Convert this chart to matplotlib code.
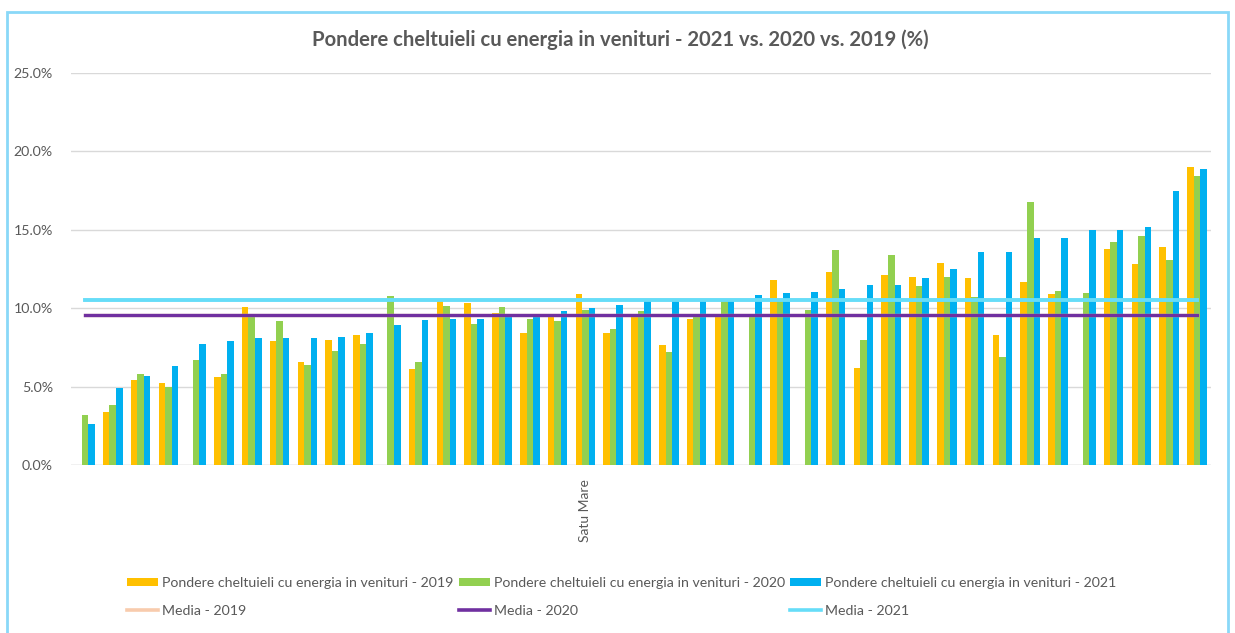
import numpy as np
import matplotlib
matplotlib.use("Agg")
import matplotlib.pyplot as plt
from matplotlib.patches import Rectangle, Patch
from matplotlib.lines import Line2D

nan = np.nan
categories = [""] * 18 + ["Satu Mare"] + [""] * 22
v2019 = [nan, 3.4, 5.4, 5.2, nan, 5.6, 10.1, 7.9, 6.6, 8.0, 8.3, nan, 6.1, 10.5, 10.35,
         9.7, 8.4, 9.6, 10.9, 8.4, 9.6, 7.65, 9.3, 9.6, nan, 11.8, nan, 12.3, 6.2, 12.1,
         12.0, 12.9, 11.9, 8.3, 11.7, 10.9, nan, 13.8, 12.8, 13.9, 19.0]
v2020 = [3.2, 3.8, 5.8, 5.0, 6.7, 5.8, 9.5, 9.2, 6.4, 7.25, 7.7, 10.8, 6.55, 10.15, 9.0,
         10.1, 9.3, 9.2, 9.9, 8.7, 9.8, 7.2, 9.6, 10.45, 9.6, 10.6, 9.9, 13.7, 8.0, 13.4,
         11.4, 12.0, 10.7, 6.9, 16.8, 11.1, 11.0, 14.2, 14.6, 13.1, 18.4]
v2021 = [2.6, 4.9, 5.7, 6.3, 7.7, 7.9, 8.1, 8.1, 8.1, 8.15, 8.4, 8.9, 9.25, 9.3, 9.3,
         9.6, 9.6, 9.8, 10.0, 10.2, 10.45, 10.45, 10.45, 10.45, 10.85, 11.0, 11.05, 11.2, 11.5, 11.5,
         11.9, 12.5, 13.6, 13.6, 14.5, 14.5, 15.0, 15.0, 15.2, 17.5, 18.9]
media2019 = 9.57
media2020 = 9.57
media2021 = 10.55
yticks = [0, 5, 10, 15, 20, 25]

series_labels = ["Pondere cheltuieli cu energia in venituri - 2019",
                 "Pondere cheltuieli cu energia in venituri - 2020",
                 "Pondere cheltuieli cu energia in venituri - 2021"]
media_labels = ["Media - 2019", "Media - 2020", "Media - 2021"]

c19, c20, c21 = "#FFC000", "#92D050", "#00B0F0"
m19, m20, m21 = "#F8CBAD", "#7030A0", "#66DDF8"
txt = "#595959"

plt.rcParams['font.family'] = ['Lato', 'DejaVu Sans']

W, H = 1235, 633
fig = plt.figure(figsize=(W / 100, H / 100), dpi=100)
ax = fig.add_axes([71 / W, 1 - 465 / H, (1211 - 71) / W, (465 - 73) / H])

n = len(v2021)
x = np.arange(n)
bw = 0.235
ax.bar(x - bw, np.array(v2019, dtype=float), bw, color=c19, zorder=2)
ax.bar(x, np.array(v2020, dtype=float), bw, color=c20, zorder=2)
ax.bar(x + bw, np.array(v2021, dtype=float), bw, color=c21, zorder=2)

ax.plot(x, [media2019] * n, color=m19, lw=2.4, zorder=3)
ax.plot(x, [media2020] * n, color=m20, lw=2.4, zorder=4)
ax.plot(x, [media2021] * n, color=m21, lw=2.8, zorder=5)

ax.set_xlim(-0.5, n - 0.5)
ax.set_ylim(0, 25)
ax.set_yticks(yticks)
ax.set_yticklabels([f"{t:.1f}%" for t in yticks], color=txt, fontsize=10.2)
ax.set_xticks(x)
ax.set_xticklabels(categories, rotation=90, color=txt, fontsize=10)
ax.tick_params(axis='y', length=0, pad=13)
ax.tick_params(axis='x', length=0, pad=10)
ax.grid(axis='y', color="#D9D9D9", lw=1, zorder=0)
for s in ax.spines.values():
    s.set_visible(False)
ax.axhline(0, color="#D9D9D9", lw=1, zorder=1)

fig.text(620 / W, 1 - 40 / H, "Pondere cheltuieli cu energia in venituri - 2021 vs. 2020 vs. 2019 (%)",
         ha='center', va='center', fontsize=14.6, fontweight='bold', color=txt)

cols = [(c19, m19, 127), (c20, m20, 459), (c21, m21, 790)]
fs = 10.2
fpx = fs * 100 / 72
for i, (bc, lc, xpx) in enumerate(cols):
    handles = [Patch(facecolor=bc, edgecolor='none'), Line2D([0], [0], color=lc, lw=2.6)]
    leg = fig.legend(handles, [series_labels[i], media_labels[i]],
                     loc='upper left', bbox_to_anchor=(xpx / W, 1 - 577 / H),
                     frameon=False, fontsize=fs, borderpad=0, borderaxespad=0,
                     handlelength=31 / fpx, handleheight=0.5, handletextpad=4 / fpx,
                     labelspacing=(30 - fpx) / fpx, labelcolor=txt)

fig.patches.append(Rectangle((7 / W, -0.05), (1228 - 7) / W, 1 - 12 / H + 0.05,
                             transform=fig.transFigure, fill=False,
                             edgecolor="#8AD8F8", lw=2))

fig.savefig("out.png", dpi=100)
